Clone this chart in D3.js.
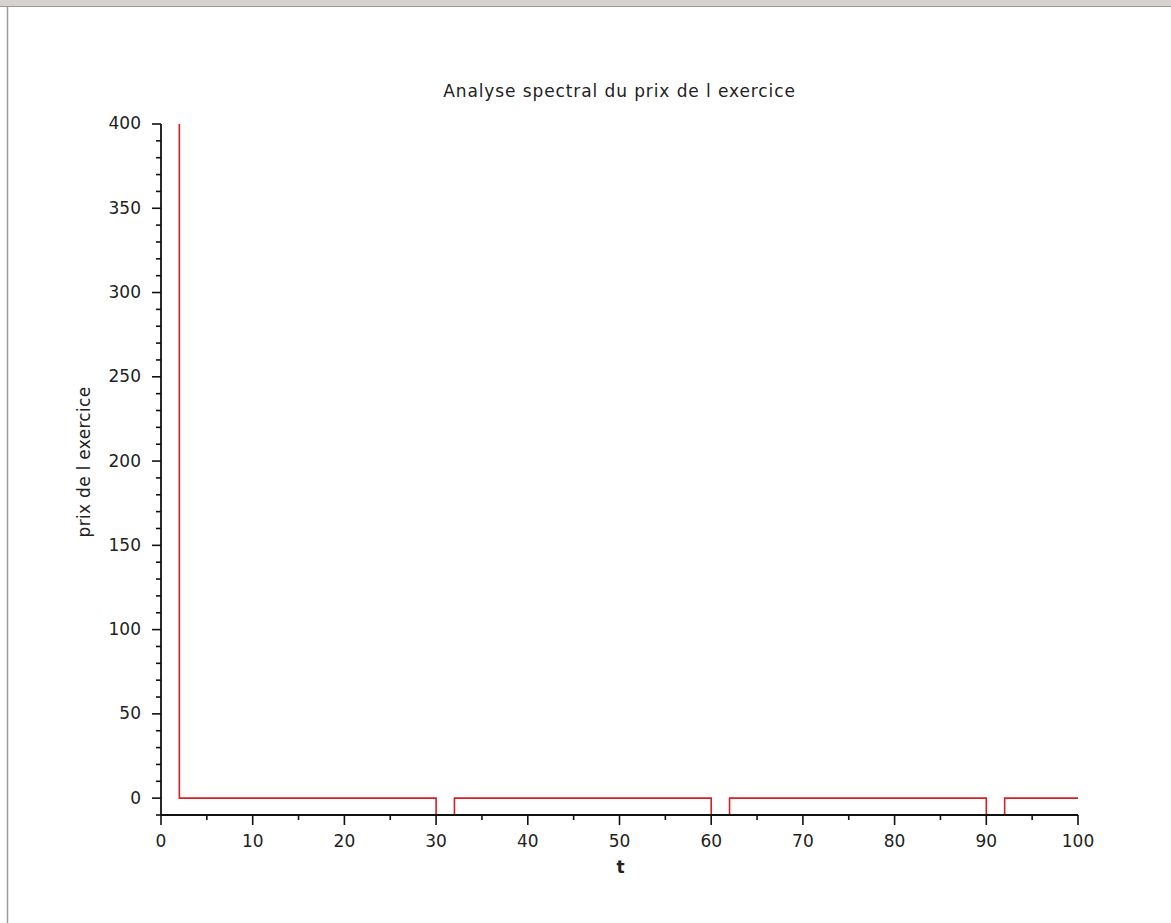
<!DOCTYPE html>
<html>
<head>
<meta charset="utf-8">
<script src="https://cdn.jsdelivr.net/npm/d3@7"></script>
<style>
  html, body { margin: 0; padding: 0; background: #ffffff; }
  svg { display: block; }
  text { font-family: "DejaVu Sans", sans-serif; fill: #222; }
</style>
</head>
<body>
<script>
// ---- data ----
const title = "Analyse spectral du prix de l exercice";
const xLabel = "t";
const yLabel = "prix de l exercice";
// staircase vertices (step-after): t and price
const t     = [2,   2, 30,  32, 60,  62, 90,  92, 100];
const price = [400, 0, -10, 0,  -10, 0,  -10, 0,  0];
const xDomain = [0, 100];
const yDomain = [-10, 400];
const xTicks = [0, 10, 20, 30, 40, 50, 60, 70, 80, 90, 100];
const xMinorTicks = [5, 15, 25, 35, 45, 55, 65, 75, 85, 95];
const yTicks = [0, 50, 100, 150, 200, 250, 300, 350, 400];
const yMinorTicks = d3.range(-10, 401, 10).filter(v => v % 50 !== 0);

const W = 1171, H = 923;
const svg = d3.select("body").append("svg").attr("width", W).attr("height", H);

// window frame
svg.append("rect").attr("x", 0).attr("y", 0).attr("width", W).attr("height", 6).attr("fill", "#d6d3ce");
svg.append("line").attr("x1", 0).attr("x2", W).attr("y1", 6.5).attr("y2", 6.5).attr("stroke", "#9a9a9a");
svg.append("line").attr("x1", 7.5).attr("x2", 7.5).attr("y1", 6).attr("y2", H).attr("stroke", "#9a9a9a").attr("stroke-width", 1.5);

const mLeft = 161, mRight = 1078, mTop = 124, mBottom = 815;
const x = d3.scaleLinear().domain(xDomain).range([mLeft, mRight]);
const y = d3.scaleLinear().domain(yDomain).range([mBottom, mTop]);

// line
const pts = t.map((d, i) => [d, price[i]]);
const line = d3.line().x(d => x(d[0])).y(d => y(d[1])).curve(d3.curveStepAfter);
svg.append("path").datum(pts).attr("d", line)
  .attr("fill", "none").attr("stroke", "#d42025").attr("stroke-width", 1.6);

// x axis
const gx = svg.append("g").attr("transform", `translate(0,${mBottom})`);
gx.call(d3.axisBottom(x).offset(0).tickValues(xMinorTicks).tickSize(5).tickFormat(""));
gx.call(g => g.select(".domain").remove());
const gx2 = svg.append("g").attr("transform", `translate(0,${mBottom})`);
gx2.call(d3.axisBottom(x).offset(0).tickValues(xTicks).tickSize(10).tickSizeOuter(0).tickPadding(10).tickFormat(d3.format("d")));

// y axis
const gy = svg.append("g").attr("transform", `translate(${mLeft},0)`);
gy.call(d3.axisLeft(y).offset(0).tickValues(yMinorTicks).tickSize(5).tickFormat(""));
gy.call(g => g.select(".domain").remove());
const gy2 = svg.append("g").attr("transform", `translate(${mLeft},0)`);
gy2.call(d3.axisLeft(y).offset(0).tickValues(yTicks).tickSize(9).tickSizeOuter(0).tickPadding(11).tickFormat(d3.format("d")));

svg.selectAll(".tick line").attr("stroke", "#111").attr("stroke-width", 1.6);
svg.selectAll(".domain").attr("stroke", "#111").attr("stroke-width", 1.8);
svg.selectAll(".tick text").attr("font-family", "DejaVu Sans, sans-serif").attr("font-size", 17).attr("fill", "#222");

// title and labels
svg.append("text").attr("x", (mLeft + mRight) / 2).attr("y", 97).attr("text-anchor", "middle")
  .attr("font-size", 17).attr("letter-spacing", 0.9).text(title);
svg.append("text").attr("x", (mLeft + mRight) / 2 + 1).attr("y", 873).attr("text-anchor", "middle")
  .attr("font-size", 17).attr("font-weight", "bold").text(xLabel);
svg.append("text").attr("transform", `translate(90,462) rotate(-90)`).attr("text-anchor", "middle")
  .attr("font-size", 17).attr("letter-spacing", 0.3).text(yLabel);
</script>
</body>
</html>
